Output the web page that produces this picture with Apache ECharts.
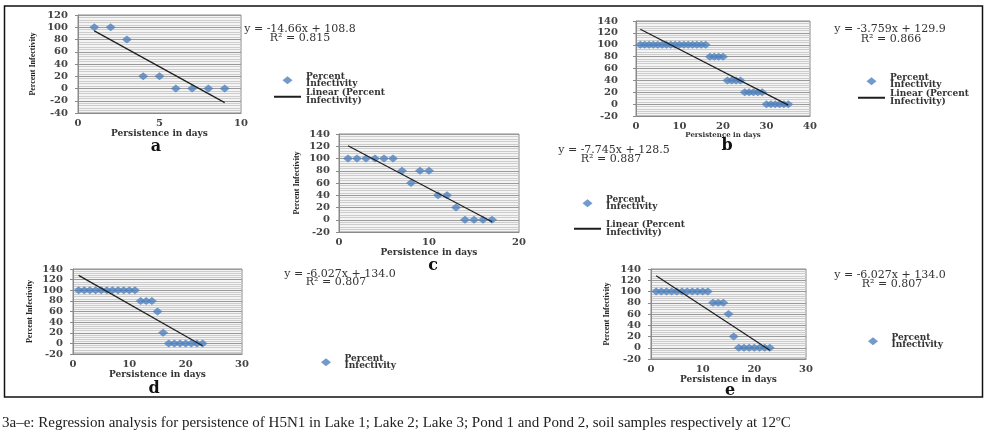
<!DOCTYPE html>
<html><head><meta charset="utf-8">
<script src="https://cdn.jsdelivr.net/npm/echarts@6/dist/echarts.min.js"></script>
<style>html,body{margin:0;padding:0;background:#fff}#c{width:989px;height:448px}</style>
</head><body><div id="c"></div>
<script>
// ---- data ----
const daysA = [1,2,3,4,5,6,7,8,9];
const infA  = [100,100,80,20,20,0,0,0,0];
const trendA = [[1, 94.1], [9, -23.1]];
const eqA = 'y = -14.66x + 108.8', r2A = 'R² = 0.815';

const daysB = [1,2,3,4,5,6,7,8,9,10,11,12,13,14,15,16,17,18,19,20,21,22,23,24,25,26,27,28,29,30,31,32,33,34,35];
const infB  = [100,100,100,100,100,100,100,100,100,100,100,100,100,100,100,100,80,80,80,80,40,40,40,40,20,20,20,20,20,0,0,0,0,0,0];
const trendB = [[1, 126.1], [35, -1.7]];
const eqB = 'y = -3.759x + 129.9', r2B = 'R² = 0.866';

const daysC = [1,2,3,4,5,6,7,8,9,10,11,12,13,14,15,16,17];
const infC  = [100,100,100,100,100,100,80,60,80,80,40,40,20,0,0,0,0];
const trendC = [[1, 120.8], [17, -3.2]];
const eqC = 'y = -7.745x + 128.5', r2C = 'R² = 0.887';

const daysD = [1,2,3,4,5,6,7,8,9,10,11,12,13,14,15,16,17,18,19,20,21,22,23];
const infD  = [100,100,100,100,100,100,100,100,100,100,100,80,80,80,60,20,0,0,0,0,0,0,0];
const trendD = [[1, 128.0], [23, -4.6]];
const eqD = 'y = -6.027x + 134.0', r2D = 'R² = 0.807';

const daysE = [1,2,3,4,5,6,7,8,9,10,11,12,13,14,15,16,17,18,19,20,21,22,23];
const infE  = [100,100,100,100,100,100,100,100,100,100,100,80,80,80,60,20,0,0,0,0,0,0,0];
const trendE = [[1, 128.0], [23, -4.6]];
const eqE = 'y = -6.027x + 134.0', r2E = 'R² = 0.807';

const xRanges = [[0,10,5],[0,40,10],[0,20,10],[0,30,10],[0,30,10]];
const yRanges = [[-40,120,20],[-20,140,20],[-20,140,20],[-20,140,20],[-20,140,20]];
const letters = ['a','b','c','d','e'];
const xTitle = 'Persistence in days';
const yTitle = 'Percent Infectivity';
const seriesName = 'Percent Infectivity';
const trendName = 'Linear (Percent Infectivity)';
const caption = '3a–e: Regression analysis for persistence of H5N1 in Lake 1; Lake 2; Lake 3; Pond 1 and Pond 2, soil samples respectively at 12ºC';

// ---- layout ----
const data = [
  {days:daysA, inf:infA, trend:trendA, eq:eqA, r2:r2A},
  {days:daysB, inf:infB, trend:trendB, eq:eqB, r2:r2B},
  {days:daysC, inf:infC, trend:trendC, eq:eqC, r2:r2C},
  {days:daysD, inf:infD, trend:trendD, eq:eqD, r2:r2D},
  {days:daysE, inf:infE, trend:trendE, eq:eqE, r2:r2E}
];
const layout = [
  {grid:{left:78,top:15,width:163,height:98}, ylm:10, xlm:5, xng:14, xnf:9, yname:true, yng:41,
   eq:[300,29], r2:[300,38], letter:[156,147], legend:{left:273,top:72,gap:0,line:true}},
  {grid:{left:636,top:21,width:174,height:95}, ylm:18, xlm:5, xng:15, xnf:7, yname:false, yng:0,
   eq:[890,29], r2:[891,39], letter:[727,146], legend:{left:857,top:73,gap:0,line:true}},
  {grid:{left:339,top:134,width:180,height:98}, ylm:9, xlm:5, xng:14, xnf:9, yname:true, yng:38,
   eq:[614,150], r2:[611,159], letter:[433,266], legend:{left:573,top:195,gap:9,line:true}},
  {grid:{left:73,top:269,width:169,height:85}, ylm:10, xlm:5, xng:14, xnf:9, yname:true, yng:39,
   eq:[340,274], r2:[336,282], letter:[154,389], legend:{left:321,top:354,gap:0,line:false}},
  {grid:{left:651,top:269,width:155,height:90}, ylm:10, xlm:5, xng:14, xnf:9, yname:true, yng:40,
   eq:[890,275], r2:[892,284], letter:[730,391], legend:{left:868,top:333,gap:0,line:false}}
];

const F = '"DejaVu Serif", serif';
const DIAMOND = 'path://M5,0L10,4L5,8L0,4Z';
const grids = [], xAxes = [], yAxes = [], series = [], legends = [], graphics = [];

layout.forEach((L, i) => {
  const d = data[i];
  grids.push(Object.assign({show:true, borderColor:'#8a8a8a', borderWidth:1, backgroundColor:'#f4f4f4', containLabel:false}, L.grid));
  xAxes.push({
    type:'value', gridIndex:i, min:xRanges[i][0], max:xRanges[i][1], interval:xRanges[i][2],
    name:xTitle, nameLocation:'middle', nameGap:L.xng,
    nameTextStyle:{fontFamily:F, fontSize:L.xnf, fontWeight:'bold', color:'#333'},
    axisLine:{show:true, onZero:false, lineStyle:{color:'#8a8a8a'}},
    axisTick:{show:false},
    axisLabel:{margin:L.xlm, fontFamily:F, fontSize:10, fontWeight:'bold', color:'#444'},
    splitLine:{show:false}
  });
  yAxes.push({
    type:'value', gridIndex:i, min:yRanges[i][0], max:yRanges[i][1], interval:yRanges[i][2],
    name:L.yname ? yTitle : '', nameLocation:'middle', nameGap:L.yng, nameRotate:90,
    nameTextStyle:{fontFamily:'"Liberation Serif", serif', fontSize:8, fontWeight:'bold', color:'#222'},
    axisLine:{show:true, lineStyle:{color:'#8a8a8a'}},
    axisTick:{show:true, length:3, lineStyle:{color:'#8a8a8a'}},
    axisLabel:{margin:L.ylm, fontFamily:F, fontSize:10, fontWeight:'bold', color:'#444'},
    splitLine:{show:true, lineStyle:{color:'#9a9a9a', width:1}},
    minorTick:{show:false, splitNumber:5},
    minorSplitLine:{show:true, lineStyle:{color:'#cdcdcd', width:1}}
  });
  series.push({
    name:seriesName, type:'scatter', xAxisIndex:i, yAxisIndex:i,
    data:d.days.map((x, j) => [x, d.inf[j]]),
    symbol:'diamond', symbolSize:[10,8],
    itemStyle:{color:'#4F81BD'}, z:3
  });
  series.push({
    name:trendName, type:'line', xAxisIndex:i, yAxisIndex:i,
    data:d.trend, symbol:'none', showSymbol:false,
    itemStyle:{color:'#1e1e1e'},
    lineStyle:{color:'#1e1e1e', width:1.2}, z:4, silent:true
  });
  const ld = [{name:seriesName, icon:DIAMOND}];
  if (L.legend.line) ld.push({name:trendName, itemStyle:{color:'rgba(0,0,0,0)', borderWidth:0, opacity:0}});
  legends.push({
    left:L.legend.left, top:L.legend.top, orient:'vertical', align:'left', itemWidth:27, itemHeight:8,
    itemGap:L.legend.gap, selectedMode:false, padding:0, symbolKeepAspect:true, data:ld,
    formatter: n => n === seriesName ? 'Percent\nInfectivity' : 'Linear (Percent\nInfectivity)',
    textStyle:{fontFamily:F, fontSize:9, lineHeight:7.5, fontWeight:'bold', color:'#333'}
  });
  graphics.push({type:'text', style:{text:d.eq, x:L.eq[0], y:L.eq[1], textAlign:'center', textVerticalAlign:'middle', font:'11px ' + F, fill:'#333'}});
  graphics.push({type:'text', style:{text:d.r2, x:L.r2[0], y:L.r2[1], textAlign:'center', textVerticalAlign:'middle', font:'11px ' + F, fill:'#333'}});
  graphics.push({type:'text', style:{text:letters[i], x:L.letter[0], y:L.letter[1], textAlign:'center', textVerticalAlign:'middle', font:'bold 16px ' + F, fill:'#111'}});
});

graphics.push({type:'rect', shape:{x:4.5, y:6, width:978, height:391}, style:{fill:'none', stroke:'#111', lineWidth:1.5}, z:-1});
graphics.push({type:'text', style:{text:caption, x:2, y:423, textVerticalAlign:'middle', font:'15px "Liberation Serif", serif', fill:'#222'}});

const chart = echarts.init(document.getElementById('c'), null, {renderer:'canvas'});
chart.setOption({
  animation:false,
  backgroundColor:'#fff',
  grid:grids, xAxis:xAxes, yAxis:yAxes, series:series, legend:legends, graphic:graphics
});
</script></body></html>
